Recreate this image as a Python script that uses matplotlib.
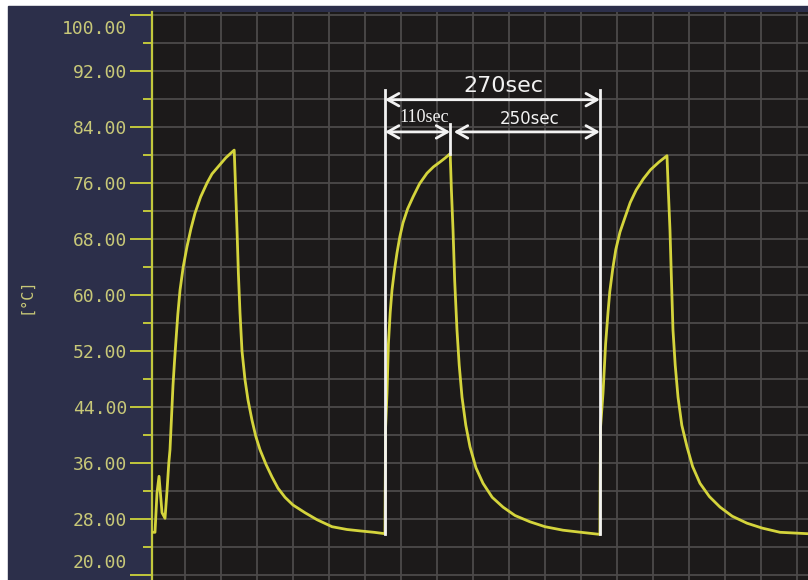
import matplotlib.pyplot as plt
from matplotlib.patches import Rectangle
from matplotlib.transforms import ScaledTranslation

# temperature trace (time in s, temperature in degC)
time_s = [
    # start-up and first cycle
    5, 10, 13.3, 16.7, 21.7, 26.7, 30, 33, 35, 40, 42.5, 45, 48, 51.7, 57, 63.3, 70, 76.7,
    86, 96.7, 105, 115, 128, 142,
    144, 146.7, 149, 151.7, 155, 160, 165, 171.7, 178, 185, 195, 205, 215, 226.7, 240,
    260, 280, 305, 330, 351.7, 375, 393.3,
    # second cycle
    394.3, 396.7, 399, 402, 405, 409, 413.3, 418, 423.3, 431, 440, 451, 463.3, 474, 485,
    494, 502,
    504, 506.7, 509.5, 513.3, 517, 521.7, 528, 535, 545, 556.7, 572, 590, 610, 635, 660,
    690, 720, 751.5,
    # third cycle
    752.5, 756.7, 761, 765, 768, 773, 778, 785, 793, 802, 812, 824, 836, 850, 863.3,
    865.5, 868.3, 870.8, 873.3, 877, 881.7, 888, 896.7, 906, 918.3, 934, 951.7, 972,
    996.7, 1022, 1051.7, 1075, 1098,
]
temp_c = [
    26.1, 26.1, 31.7, 34.1, 28.9, 28.1, 32.0, 36.0, 37.9, 47.1, 50.5, 53.6, 57.2, 60.7, 64.0,
    66.9, 69.5, 71.7, 74.0, 76.0, 77.3, 78.3, 79.6, 80.7,
    76.0, 69.3, 63.0, 57.4, 52.0, 47.9, 45.0, 42.1, 39.8, 37.9, 35.8, 34.0, 32.4, 31.1, 30.0,
    28.9, 27.9, 26.9, 26.5, 26.3, 26.1, 25.9,
    41.0, 46.0, 53.0, 57.5, 60.7, 63.5, 66.0, 68.3, 70.3, 72.3, 74.0, 75.9, 77.4, 78.3, 79.0,
    79.6, 80.2,
    75.0, 69.3, 62.0, 55.0, 50.0, 45.4, 41.4, 38.3, 35.3, 33.1, 31.1, 29.7, 28.5, 27.6, 26.9,
    26.4, 26.1, 25.8,
    41.0, 46.0, 53.0, 57.5, 60.5, 63.8, 66.5, 69.0, 71.0, 73.2, 75.0, 76.6, 77.9, 79.0, 79.9,
    75.0, 69.3, 62.0, 55.0, 50.0, 45.4, 41.4, 38.3, 35.5, 33.1, 31.2, 29.7, 28.4,
    27.4, 26.7, 26.1, 26.0, 25.9,
]

# annotation markers
rise_a = 393.3
peak_b = 502
rise_c = 751.5
base_c = 25.8
peak_c = 80.2

y_major = list(range(20, 101, 8))
y_minor = list(range(24, 101, 8))
x_grid = list(range(60, 1098, 60))

navy = "#2c2f4a"
screen = "#1c1a1a"
lime = "#c2c83c"
label_col = "#c8c878"
trace_col = "#d4d43c"
white = "#f2f2f2"

fig = plt.figure(figsize=(8.08, 5.80), dpi=100, facecolor="white")
fig.patches.append(Rectangle((8 / 808, 0), 800 / 808, 574 / 580,
                             transform=fig.transFigure, color=navy, zorder=-10))

ax = fig.add_axes([152 / 808, 0, 656 / 808, 568 / 580])
ax.set_facecolor(screen)

ax.set_xlim(5, 5 + 656 / 0.6)
ax.set_ylim(100 + 3 / 7 - 568 / 7, 100 + 3 / 7)

ax.set_yticks(y_major)
ax.set_yticklabels([f"{v:.2f}" for v in y_major])
ax.set_yticks(y_minor, minor=True)
ax.set_xticks(x_grid)
ax.set_xticklabels([])

ax.tick_params(axis="y", which="major", direction="out", length=16, width=1.4,
               color=lime, labelcolor=label_col, pad=2, labelsize=13)
ax.tick_params(axis="y", which="minor", direction="out", length=6.5, width=1.4, color=lime)
ax.tick_params(axis="x", length=0)
for lab in ax.get_yticklabels():
    lab.set_fontfamily("DejaVu Sans Mono")

# end labels are kept inside the screen like on the instrument
ticks = ax.yaxis.get_major_ticks()
ticks[0].label1.set_va("bottom")
ticks[0].label1.set_transform(ticks[0].label1.get_transform()
                              + ScaledTranslation(0, 0.03, fig.dpi_scale_trans))
ticks[-1].label1.set_va("top")
ticks[-1].label1.set_transform(ticks[-1].label1.get_transform()
                               + ScaledTranslation(0, -0.05, fig.dpi_scale_trans))

for s in ["top", "right", "bottom"]:
    ax.spines[s].set_visible(False)
ax.spines["left"].set_color(lime)
ax.spines["left"].set_linewidth(1.6)

ax.grid(True, which="both", axis="y", color="#4c4a4a", linewidth=1.3)
ax.grid(True, which="major", axis="x", color="#4c4a4a", linewidth=1.3)
ax.set_axisbelow(True)

ax.set_ylabel("[°C]", color=label_col, fontsize=11, family="DejaVu Sans Mono")
ax.yaxis.set_label_coords(-(152 - 33) / 656, 0.5)

ax.plot(time_s, temp_c, color=trace_col, linewidth=2, zorder=3)

# white markers and arrows
ax.plot([rise_a, rise_a], [base_c, 89.3], color=white, linewidth=2, zorder=4)
ax.plot([rise_c, rise_c], [base_c, 89.3], color=white, linewidth=2, zorder=4)
ax.plot([peak_b, peak_b], [peak_c, 84.4], color=white, linewidth=2, zorder=4)

arrow = dict(arrowstyle="<->,head_length=0.8,head_width=0.45", color=white, lw=2,
             shrinkA=0, shrinkB=0)
ax.annotate("", xy=(rise_a, 87.9), xytext=(rise_c, 87.9), arrowprops=arrow, zorder=5)
ax.annotate("", xy=(rise_a, 83.3), xytext=(peak_b, 83.3), arrowprops=arrow, zorder=5)
ax.annotate("", xy=(peak_b + 6, 83.3), xytext=(rise_c, 83.3), arrowprops=arrow, zorder=5)

ax.text(590, 89.8, "270sec", color=white, fontsize=16, ha="center", va="center")
ax.text(458, 85.4, "110sec", color=white, fontsize=13, ha="center", va="center",
        family="Liberation Serif")
ax.text(635, 85.2, "250sec", color=white, fontsize=12, ha="center", va="center")

fig.savefig("out.png", dpi=100, facecolor=fig.get_facecolor())
